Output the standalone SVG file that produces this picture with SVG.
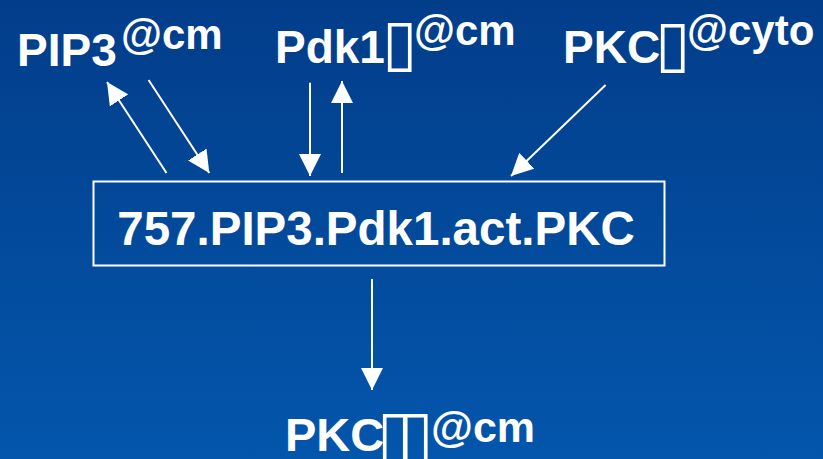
<svg xmlns="http://www.w3.org/2000/svg" width="823" height="459" viewBox="0 0 823 459">
  <defs>
    <linearGradient id="bg" x1="0" y1="0" x2="0" y2="1">
      <stop offset="0" stop-color="#023D8A"/>
      <stop offset="1" stop-color="#0356AC"/>
    </linearGradient>
    <marker id="ah" markerUnits="userSpaceOnUse" markerWidth="22" markerHeight="22" refX="22" refY="11" orient="auto">
      <path d="M0,0 L22,11 L0,22 Z" fill="#FFFFFF"/>
    </marker>
    <style>
      .t { font-family: "Liberation Sans", Arial, sans-serif; font-weight: bold; fill: #FFFFFF; }
      .g { font-family: "DejaVu Sans", sans-serif; font-weight: normal; font-size: 64px; }
      .c line { stroke: #FFFFFF; stroke-width: 2; marker-end: url(#ah); }
    </style>
  </defs>
  <rect x="0" y="0" width="823" height="459" fill="url(#bg)"/>

  <g id="node-pip3">
    <text class="t" x="17" y="66" font-size="46">PIP3<tspan x="121" y="49" font-size="42">@cm</tspan></text>
  </g>
  <g id="node-pdk1">
    <text class="t" x="275" y="63" font-size="46">Pdk1<tspan class="g" x="382" y="64">▯</tspan><tspan x="414" y="45" font-size="42">@cm</tspan></text>
  </g>
  <g id="node-pkc-cyto">
    <text class="t" x="563" y="63" font-size="46">PKC<tspan class="g" x="655" y="65">▯</tspan><tspan x="687" y="45" font-size="42">@cyto</tspan></text>
  </g>
  <g id="node-complex">
    <rect x="93.5" y="181.5" width="571" height="84" fill="none" stroke="#FFFFFF" stroke-width="2"/>
    <text class="t" x="376" y="245" font-size="47.5" text-anchor="middle">757.PIP3.Pdk1.act.PKC</text>
  </g>
  <g id="node-pkc-cm">
    <text class="t" x="285" y="451" font-size="47">PKC<tspan class="g" x="377" y="455">▯</tspan><tspan class="g" x="398" y="455">▯</tspan><tspan x="431" y="442" font-size="43">@cm</tspan></text>
  </g>

  <g id="connectors" class="c">
    <line x1="166.5" y1="173" x2="107" y2="82"/>
    <line x1="148.6" y1="80" x2="209.3" y2="173"/>
    <line x1="310" y1="82.7" x2="310" y2="176"/>
    <line x1="342" y1="173" x2="342" y2="81"/>
    <line x1="605.6" y1="85" x2="511" y2="176"/>
    <line x1="372" y1="279" x2="372" y2="390"/>
  </g>
</svg>
